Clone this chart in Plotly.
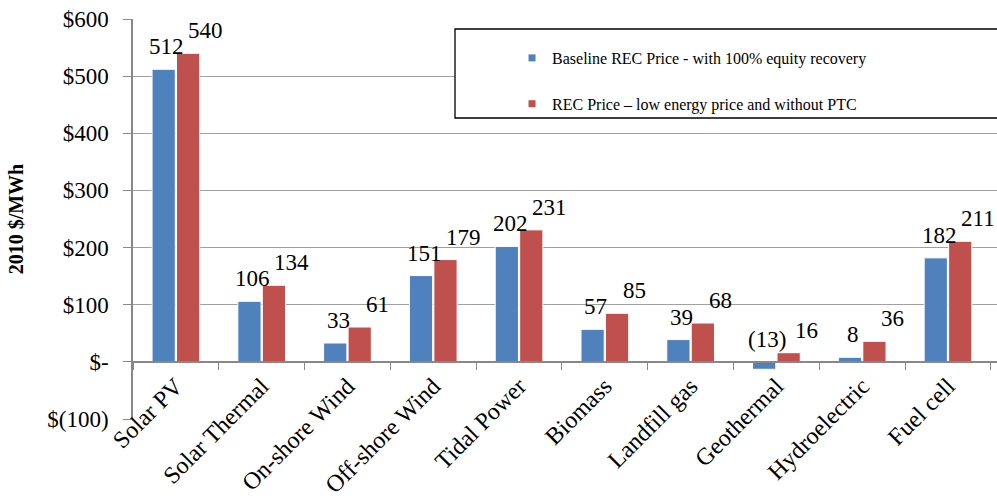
import plotly.graph_objects as go

categories = ["Solar PV", "Solar Thermal", "On-shore Wind", "Off-shore Wind", "Tidal Power",
              "Biomass", "Landfill gas", "Geothermal", "Hydroelectric", "Fuel cell"]
baseline = [512, 106, 33, 151, 202, 57, 39, -13, 8, 182]
low_price = [540, 134, 61, 179, 231, 85, 68, 16, 36, 211]
series_names = ["Baseline REC Price - with 100% equity recovery",
                "REC Price \u2013 low energy price and without PTC"]
colors = ["#4F81BD", "#C0504D"]
y_ticks = [-100, 0, 100, 200, 300, 400, 500, 600]
y_tick_text = ["$(100)", "$-", "$100", "$200", "$300", "$400", "$500", "$600"]

FONT = "Liberation Serif, serif"

fig = go.Figure()
for name, vals, col in zip(series_names, [baseline, low_price], colors):
    fig.add_trace(go.Bar(x=categories, y=vals, name=name, marker_color=col,
                         marker_line=dict(color="white", width=1), showlegend=False))

# legend entries with small square swatches
for i, (name, col) in enumerate(zip(series_names, colors)):
    fig.add_trace(go.Scatter(x=[None], y=[None], mode="markers", name=name,
                             marker=dict(symbol="square", size=7, color=col),
                             legendgroup=f"g{i}", showlegend=True))

def fmt(v):
    return f"({abs(v)})" if v < 0 else f"{v}"

annotations = []
for vals, dx in [(baseline, -9), (low_price, 30)]:
    for c, v in zip(categories, vals):
        annotations.append(dict(x=c, y=max(v, 0), text=fmt(v), xref="x", yref="y",
                                showarrow=False, yanchor="bottom", xshift=dx, yshift=8,
                                font=dict(family=FONT, size=23, color="black")))

annotations.append(dict(text="<b>2010 $/MWh</b>", xref="paper", yref="paper",
                        x=-0.135, y=0.5, xanchor="center", textangle=-90, showarrow=False,
                        font=dict(family=FONT, size=20, color="black")))

fig.update_layout(
    width=997, height=501,
    margin=dict(l=133, r=0, t=19, b=82),
    paper_bgcolor="white", plot_bgcolor="white",
    barmode="group", bargap=0.43, bargroupgap=0.05,
    font=dict(family=FONT, color="black"),
    annotations=annotations,
    shapes=[dict(type="rect", xref="paper", yref="paper", x0=0.3727, x1=1.01,
                 y0=0.7525, y1=0.975, line=dict(color="black", width=1.3),
                 fillcolor="white", layer="above")],
    legend=dict(x=0.4387, y=0.945, xanchor="left", yanchor="top",
                bgcolor="rgba(0,0,0,0)", borderwidth=0, tracegroupgap=22,
                font=dict(family=FONT, size=16, color="black")),
)
fig.update_xaxes(
    anchor="free", position=1/7, showline=True, linecolor="#888888", linewidth=1.5,
    ticks="outside", tickson="boundaries", ticklen=7, tickcolor="#888888",
    tickangle=-45, tickfont=dict(family=FONT, size=24, color="black"),
    automargin=False, showgrid=False,
)
fig.update_yaxes(
    range=[-100, 600], tickvals=y_ticks, ticktext=y_tick_text,
    showgrid=True, gridcolor="#A0A0A0", gridwidth=1,
    showline=True, linecolor="#888888", linewidth=1.5,
    ticks="outside", ticklen=8, tickcolor="#888888", ticklabelstandoff=10,
    tickfont=dict(family=FONT, size=23, color="black"),
    zeroline=False, automargin=False,
)

fig.write_html("out.html")
